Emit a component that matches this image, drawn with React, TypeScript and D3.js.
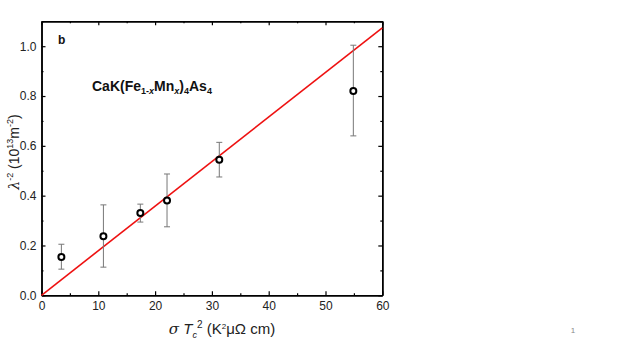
import React, { useRef, useEffect } from "react";
import * as d3 from "d3";

// data
const sigmaTc2 = [3.5, 10.9, 17.4, 22.1, 31.3, 54.9];
const lambdaInv2 = [0.154, 0.237, 0.33, 0.381, 0.544, 0.82];
const errLow = [0.105, 0.113, 0.294, 0.275, 0.475, 0.64];
const errHigh = [0.205, 0.363, 0.366, 0.487, 0.614, 1.004];
const fitSlope = 0.0179;

const xTicks = [0, 10, 20, 30, 40, 50, 60];
const xMinor = [5, 15, 25, 35, 45, 55];
const yTicks = [0, 0.2, 0.4, 0.6, 0.8, 1.0];
const yMinor = [0.1, 0.3, 0.5, 0.7, 0.9, 1.1];

const App = () => {
  const container = useRef(null);

  const width = 623;
  const height = 350;
  const left = 41.5;
  const right = 382.3;
  const top = 21.3;
  const bottom = 295.3;

  useEffect(() => {
    const svg = d3.select(container.current);
    svg.selectAll("*").remove();

    const x = d3.scaleLinear().domain([0, 60]).range([left, right]);
    const y = d3.scaleLinear().domain([0, 1.1]).range([bottom, top]);

    const font = "'Liberation Sans', Arial, sans-serif";

    const styleAxis = g => {
      g.select(".domain").attr("stroke", "#000").attr("stroke-width", 1.5);
      g.selectAll(".tick line").attr("stroke", "#000").attr("stroke-width", 1.2);
      g.selectAll(".tick text")
        .attr("fill", "#222")
        .style("font-family", font)
        .style("font-size", "12px");
    };

    // bottom
    svg.append("g")
      .attr("transform", `translate(0, ${bottom})`)
      .call(d3.axisBottom(x).tickValues(xTicks).tickSize(-4).tickSizeOuter(0).tickPadding(6).tickFormat(d3.format("d")))
      .call(styleAxis);
    svg.append("g")
      .attr("transform", `translate(0, ${bottom})`)
      .call(d3.axisBottom(x).tickValues(xMinor).tickSize(-2).tickSizeOuter(0).tickFormat(() => ""))
      .call(styleAxis);

    // top
    svg.append("g")
      .attr("transform", `translate(0, ${top})`)
      .call(d3.axisTop(x).tickValues(xTicks).tickSize(-4).tickSizeOuter(0).tickFormat(() => ""))
      .call(styleAxis);
    svg.append("g")
      .attr("transform", `translate(0, ${top})`)
      .call(d3.axisTop(x).tickValues(xMinor).tickSize(-2).tickSizeOuter(0).tickFormat(() => ""))
      .call(styleAxis);

    // left
    svg.append("g")
      .attr("transform", `translate(${left}, 0)`)
      .call(d3.axisLeft(y).tickValues(yTicks).tickSize(-4).tickSizeOuter(0).tickPadding(5).tickFormat(d3.format(".1f")))
      .call(styleAxis);
    svg.append("g")
      .attr("transform", `translate(${left}, 0)`)
      .call(d3.axisLeft(y).tickValues(yMinor).tickSize(-2).tickSizeOuter(0).tickFormat(() => ""))
      .call(styleAxis);

    // right
    svg.append("g")
      .attr("transform", `translate(${right}, 0)`)
      .call(d3.axisRight(y).tickValues(yTicks).tickSize(-4).tickSizeOuter(0).tickFormat(() => ""))
      .call(styleAxis);
    svg.append("g")
      .attr("transform", `translate(${right}, 0)`)
      .call(d3.axisRight(y).tickValues(yMinor).tickSize(-2).tickSizeOuter(0).tickFormat(() => ""))
      .call(styleAxis);

    // linear fit through origin
    const fit = [0, 60].map(v => [v, v * fitSlope]);
    svg.append("path")
      .datum(fit)
      .attr("fill", "none")
      .attr("stroke", "#ee1111")
      .attr("stroke-width", 1.6)
      .attr("d", d3.line().x(d => x(d[0])).y(d => y(d[1])));

    // error bars
    const pts = sigmaTc2.map((v, i) => ({ x: v, y: lambdaInv2[i], lo: errLow[i], hi: errHigh[i] }));
    const eb = svg.append("g").attr("stroke", "#777").attr("stroke-width", 1);
    pts.forEach(d => {
      eb.append("line").attr("x1", x(d.x)).attr("x2", x(d.x)).attr("y1", y(d.lo)).attr("y2", y(d.hi));
      eb.append("line").attr("x1", x(d.x) - 3).attr("x2", x(d.x) + 3).attr("y1", y(d.lo)).attr("y2", y(d.lo));
      eb.append("line").attr("x1", x(d.x) - 3).attr("x2", x(d.x) + 3).attr("y1", y(d.hi)).attr("y2", y(d.hi));
    });

    // markers
    svg.append("g")
      .selectAll("circle")
      .data(pts)
      .enter()
      .append("circle")
      .attr("cx", d => x(d.x))
      .attr("cy", d => y(d.y))
      .attr("r", 3)
      .attr("fill", "#fff")
      .attr("stroke", "#000")
      .attr("stroke-width", 2);
  }, []);

  const font = "'Liberation Sans', Arial, sans-serif";

  return (
    <svg
      width={width}
      height={height}
      style={{ position: "absolute", top: 0, left: 0, background: "#fff" }}
    >
      <g ref={container} />
      <g style={{ fontFamily: font }}>
        <text x={58} y={44} fontSize={12} fontWeight="bold" fill="#111">b</text>
        <text x={92} y={91} fontSize={14} fontWeight="bold" fill="#111">
          CaK(Fe
          <tspan fontSize={9} dy={3}>1-</tspan>
          <tspan fontSize={9} fontStyle="italic">x</tspan>
          <tspan dy={-3}>Mn</tspan>
          <tspan fontSize={9} dy={3} fontStyle="italic">x</tspan>
          <tspan dy={-3} fontStyle="normal">)</tspan>
          <tspan fontSize={9} dy={3} fontStyle="normal">4</tspan>
          <tspan dy={-3}>As</tspan>
          <tspan fontSize={9} dy={3}>4</tspan>
        </text>
        <text
          transform="translate(19, 152) rotate(-90)"
          textAnchor="middle"
          fontSize={14}
          fill="#222"
        >
          <tspan fontStyle="italic" fontFamily="'DejaVu Serif', serif">λ</tspan>
          <tspan fontSize={9} dy={-6}>-2</tspan>
          <tspan dy={6}> (10</tspan>
          <tspan fontSize={9} dy={-6}>13</tspan>
          <tspan dy={6}>m</tspan>
          <tspan fontSize={9} dy={-6}>-2</tspan>
          <tspan dy={6}>)</tspan>
        </text>
        <text x={222} y={334} textAnchor="middle" fontSize={15} fill="#222">
          <tspan fontStyle="italic" fontFamily="'DejaVu Serif', serif">σ</tspan>
          <tspan fontStyle="italic"> T</tspan>
          <tspan fontSize={9} dy={4} fontStyle="italic">c</tspan>
          <tspan fontSize={10} dy={-10}>2</tspan>
          <tspan dy={6}> (K</tspan>
          <tspan fontSize={8} dy={-5}>2</tspan>
          <tspan dy={5}>μΩ cm)</tspan>
        </text>
        <text x={573} y={333} textAnchor="middle" fontSize={8} fill="#888">1</text>
      </g>
    </svg>
  );
};

export default App;
